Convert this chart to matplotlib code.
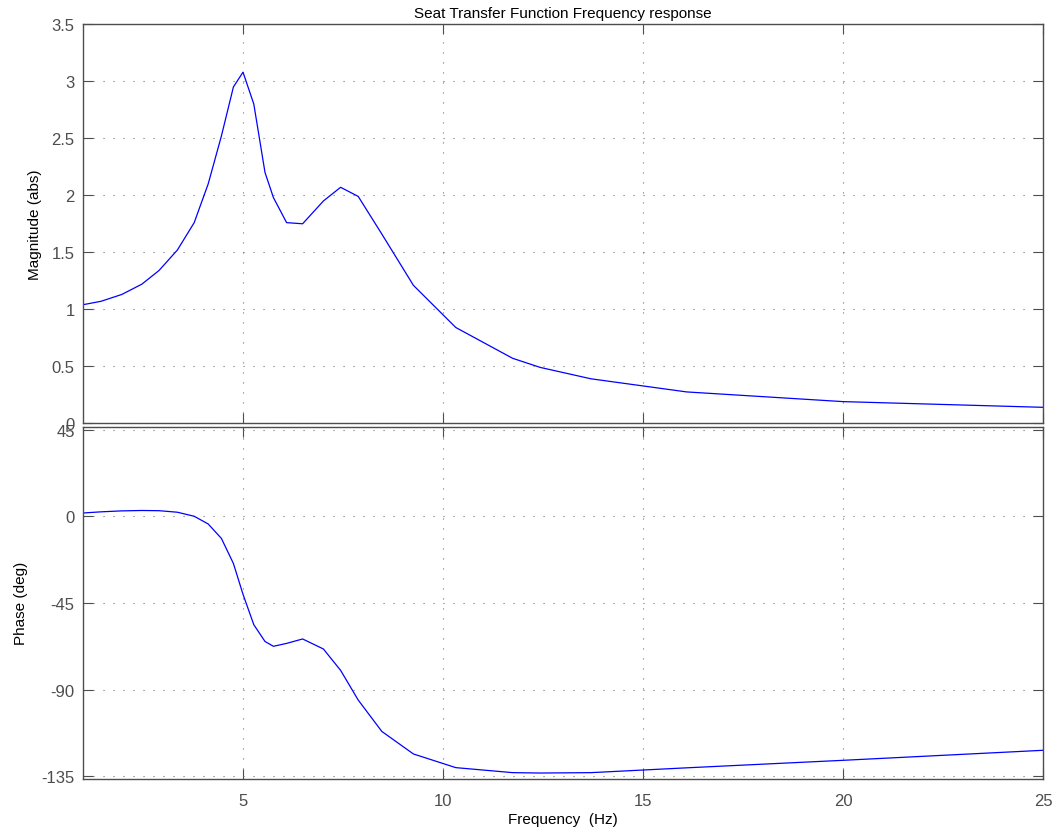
import matplotlib
matplotlib.use("Agg")
import matplotlib.pyplot as plt

plt.rcParams['font.family'] = ['Liberation Sans', 'DejaVu Sans']
plt.rcParams['axes.unicode_minus'] = False

# frequency points (Hz)
freq = [1.0, 1.45, 1.97, 2.47, 2.9, 3.36, 3.78, 4.13, 4.46, 4.76, 5.0, 5.27, 5.55,
        5.76, 6.09, 6.49, 7.01, 7.44, 7.88, 8.47, 9.26, 10.32, 11.74, 12.43, 13.7,
        16.09, 20.0, 25.0]
# magnitude (abs)
mag = [1.04, 1.07, 1.13, 1.22, 1.34, 1.52, 1.76, 2.10, 2.52, 2.95, 3.08, 2.80, 2.20,
       1.98, 1.76, 1.75, 1.95, 2.07, 1.99, 1.66, 1.21, 0.84, 0.57, 0.49, 0.39,
       0.275, 0.19, 0.14]
# phase (deg)
phase = [1.7, 2.3, 2.8, 3.0, 2.9, 2.1, 0.0, -4.0, -11.5, -24.5, -40.5, -56.3, -65.0,
         -67.5, -66.0, -63.7, -68.9, -80.0, -95.4, -111.7, -123.4, -130.5, -133.1,
         -133.3, -133.1, -130.6, -126.7, -121.5]

mag_ticks = [0, 0.5, 1, 1.5, 2, 2.5, 3, 3.5]
mag_ticklabels = ['0', '0.5', '1', '1.5', '2', '2.5', '3', '3.5']
phase_ticks = [-135, -90, -45, 0, 45]
x_ticks = [5, 10, 15, 20, 25]

frame = '0.3'
grid_style = dict(color='0.45', linestyle=(0, (1, 8)), linewidth=0.8)

fig = plt.figure(figsize=(10.6, 8.37), dpi=100)
ax1 = fig.add_axes([0.0783, 0.4931, 0.9057, 0.4767])
ax2 = fig.add_axes([0.0783, 0.0681, 0.9057, 0.4209])

for ax in (ax1, ax2):
    ax.set_xlim(1, 25)
    ax.set_xticks(x_ticks)
    ax.grid(True, **grid_style)
    ax.tick_params(direction='in', length=7, width=0.8, color=frame,
                   labelcolor='0.3', labelsize=12, top=True, right=True)
    ax.tick_params(axis='y', pad=6)
    ax.tick_params(axis='x', pad=10)
    for s in ax.spines.values():
        s.set_color(frame)
        s.set_linewidth(1.0)

ax1.plot(freq, mag, color='#0000ff', linewidth=0.9)
ax1.set_ylim(0, 3.5)
ax1.set_yticks(mag_ticks)
ax1.set_yticklabels(mag_ticklabels)
ax1.tick_params(labelbottom=False)
ax1.set_ylabel('Magnitude (abs)', fontsize=11, labelpad=7)
ax1.set_title('Seat Transfer Function Frequency response', fontsize=11, pad=5)

ax2.plot(freq, phase, color='#0000ff', linewidth=0.9)
ax2.set_ylim(-136.4, 46.5)
ax2.set_yticks(phase_ticks)
ax2.set_ylabel('Phase (deg)', fontsize=11, labelpad=10)
ax2.set_xlabel('Frequency  (Hz)', fontsize=11, labelpad=3)

fig.savefig('out.png', dpi=100)
